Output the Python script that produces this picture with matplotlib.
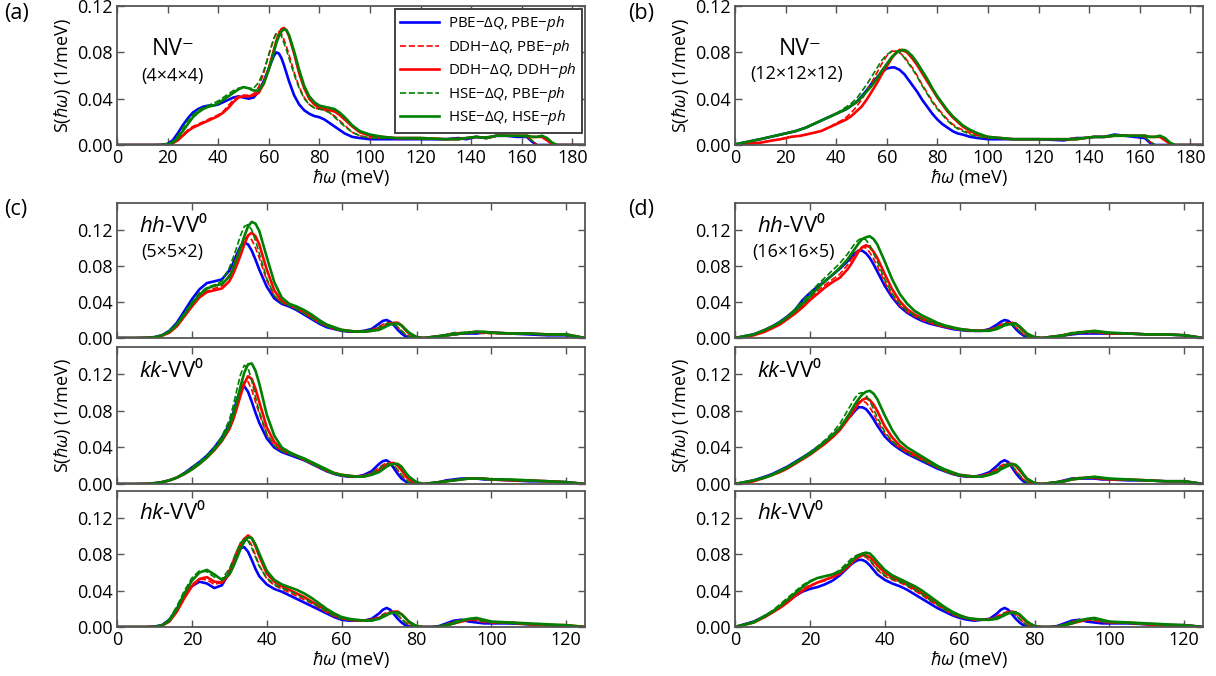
import matplotlib
matplotlib.use('Agg')
import matplotlib.pyplot as plt

BASE = 'Open Sans'
plt.rcParams['font.family'] = [BASE, 'DejaVu Sans']
plt.rcParams['mathtext.fontset'] = 'custom'
plt.rcParams['mathtext.rm'] = BASE
plt.rcParams['mathtext.it'] = BASE + ':italic'
plt.rcParams['mathtext.bf'] = BASE + ':bold'
plt.rcParams['mathtext.fallback'] = 'stixsans'

# ---------------- data ----------------
series_labels = [r'PBE$-\Delta Q$, PBE$-ph$', r'DDH$-\Delta Q$, PBE$-ph$',
                 r'DDH$-\Delta Q$, DDH$-ph$', r'HSE$-\Delta Q$, PBE$-ph$',
                 r'HSE$-\Delta Q$, HSE$-ph$']

# NV- energy grid (meV)
nv_x = [0, 10, 15, 18, 20, 22, 24, 26, 28, 30, 32, 34, 36, 38, 40, 42, 44, 46, 48, 50,
        52, 54, 56, 58, 60, 62, 63, 64, 65, 66, 67, 68, 70, 72, 74, 76, 78, 80, 82, 84,
        86, 88, 90, 93, 96, 100, 105, 110, 120, 130, 135, 138, 142, 146, 150, 154, 158, 162, 164, 166,
        168, 170, 172, 174, 185]

# (a) NV- 4x4x4
a_pbe_pbe = [0, 0, 0, 0.0003, 0.001, 0.004, 0.010, 0.017, 0.023, 0.028,
             0.031, 0.033, 0.034, 0.034, 0.035, 0.037, 0.039, 0.041, 0.042, 0.041,
             0.040, 0.041, 0.046, 0.055, 0.066, 0.077, 0.080, 0.079, 0.075, 0.069,
             0.062, 0.055, 0.043, 0.035, 0.030, 0.027, 0.025, 0.024, 0.022, 0.019,
             0.016, 0.013, 0.010, 0.007, 0.006, 0.005, 0.005, 0.005, 0.005, 0.005,
             0.006, 0.005, 0.007, 0.006, 0.008, 0.008, 0.007, 0.007, 0.003, 0.0,
             0, 0, 0, 0, 0]
a_ddh_pbe = [0, 0, 0, 0, 0.0005, 0.002, 0.005, 0.009, 0.013, 0.016,
             0.018, 0.020, 0.022, 0.024, 0.026, 0.029, 0.034, 0.039, 0.042, 0.043,
             0.043, 0.044, 0.050, 0.062, 0.078, 0.092, 0.097, 0.098, 0.096, 0.091,
             0.085, 0.078, 0.063, 0.050, 0.041, 0.035, 0.032, 0.031, 0.030, 0.028,
             0.025, 0.021, 0.017, 0.011, 0.008, 0.006, 0.006, 0.006, 0.005, 0.005,
             0.006, 0.006, 0.007, 0.007, 0.008, 0.008, 0.008, 0.007, 0.004, 0,
             0, 0, 0, 0, 0]
a_ddh_ddh = [0, 0, 0, 0, 0.0003, 0.0015, 0.004, 0.008, 0.012, 0.015,
             0.017, 0.019, 0.021, 0.023, 0.025, 0.028, 0.032, 0.037, 0.041, 0.042,
             0.042, 0.043, 0.045, 0.053, 0.066, 0.082, 0.090, 0.096, 0.100, 0.101,
             0.099, 0.094, 0.079, 0.062, 0.049, 0.040, 0.035, 0.032, 0.031, 0.030,
             0.029, 0.026, 0.022, 0.016, 0.011, 0.008, 0.007, 0.006, 0.006, 0.005,
             0.005, 0.006, 0.007, 0.006, 0.008, 0.008, 0.008, 0.008, 0.007, 0.007,
             0.007, 0.004, 0.001, 0, 0]
a_hse_pbe = [0, 0, 0, 0.0003, 0.001, 0.003, 0.008, 0.015, 0.021, 0.026,
             0.030, 0.032, 0.034, 0.036, 0.038, 0.041, 0.044, 0.047, 0.049, 0.050,
             0.049, 0.049, 0.054, 0.064, 0.078, 0.092, 0.096, 0.097, 0.094, 0.088,
             0.082, 0.075, 0.061, 0.049, 0.040, 0.035, 0.032, 0.031, 0.030, 0.028,
             0.024, 0.020, 0.016, 0.011, 0.008, 0.006, 0.006, 0.006, 0.005, 0.005,
             0.006, 0.006, 0.007, 0.007, 0.008, 0.008, 0.008, 0.007, 0.004, 0,
             0, 0, 0, 0, 0]
a_hse_hse = [0, 0, 0, 0, 0.0005, 0.002, 0.006, 0.012, 0.018, 0.024,
             0.028, 0.031, 0.033, 0.034, 0.036, 0.039, 0.042, 0.045, 0.048, 0.050,
             0.049, 0.047, 0.047, 0.053, 0.065, 0.080, 0.088, 0.094, 0.098, 0.100,
             0.099, 0.095, 0.081, 0.065, 0.051, 0.042, 0.037, 0.034, 0.033, 0.032,
             0.031, 0.028, 0.024, 0.017, 0.012, 0.009, 0.007, 0.006, 0.006, 0.005,
             0.005, 0.006, 0.007, 0.006, 0.008, 0.008, 0.008, 0.008, 0.007, 0.007,
             0.008, 0.006, 0.002, 0, 0]

# (b) NV- 12x12x12
b_pbe_pbe = [0.0005, 0.005, 0.0075, 0.009, 0.010, 0.011, 0.012, 0.0135, 0.015, 0.017,
             0.019, 0.021, 0.023, 0.025, 0.027, 0.029, 0.031, 0.034, 0.037, 0.042,
             0.047, 0.053, 0.058, 0.063, 0.066, 0.067, 0.067, 0.066, 0.065, 0.063,
             0.061, 0.058, 0.052, 0.046, 0.039, 0.033, 0.027, 0.022, 0.018, 0.015,
             0.012, 0.010, 0.009, 0.007, 0.006, 0.005, 0.005, 0.005, 0.005, 0.004,
             0.006, 0.006, 0.007, 0.007, 0.009, 0.008, 0.007, 0.006, 0.002, 0,
             0, 0, 0, 0, 0]
b_ddh_pbe = [0, 0.002, 0.004, 0.005, 0.006, 0.007, 0.0075, 0.008, 0.009, 0.010,
             0.011, 0.012, 0.014, 0.016, 0.019, 0.021, 0.024, 0.028, 0.033, 0.039,
             0.046, 0.054, 0.062, 0.070, 0.077, 0.081, 0.081, 0.081, 0.080, 0.078,
             0.076, 0.073, 0.067, 0.060, 0.052, 0.045, 0.038, 0.032, 0.027, 0.022,
             0.018, 0.015, 0.013, 0.010, 0.008, 0.006, 0.006, 0.005, 0.005, 0.005,
             0.006, 0.006, 0.007, 0.007, 0.008, 0.008, 0.008, 0.007, 0.003, 0,
             0, 0, 0, 0, 0]
b_ddh_ddh = [0, 0.002, 0.004, 0.005, 0.006, 0.007, 0.0075, 0.008, 0.009, 0.010,
             0.011, 0.012, 0.014, 0.016, 0.018, 0.020, 0.022, 0.025, 0.029, 0.033,
             0.039, 0.046, 0.053, 0.061, 0.068, 0.075, 0.078, 0.080, 0.082, 0.082,
             0.081, 0.080, 0.075, 0.069, 0.062, 0.055, 0.048, 0.041, 0.035, 0.029,
             0.024, 0.020, 0.016, 0.012, 0.009, 0.007, 0.006, 0.005, 0.005, 0.005,
             0.005, 0.006, 0.007, 0.007, 0.008, 0.008, 0.008, 0.008, 0.007, 0.007,
             0.007, 0.004, 0.001, 0, 0]
b_hse_pbe = [0.0005, 0.005, 0.0075, 0.009, 0.010, 0.011, 0.012, 0.0135, 0.015, 0.017,
             0.019, 0.021, 0.023, 0.025, 0.027, 0.030, 0.033, 0.036, 0.040, 0.046,
             0.052, 0.059, 0.066, 0.073, 0.078, 0.081, 0.081, 0.081, 0.080, 0.078,
             0.075, 0.072, 0.066, 0.059, 0.051, 0.044, 0.037, 0.031, 0.026, 0.021,
             0.017, 0.014, 0.012, 0.009, 0.007, 0.006, 0.006, 0.005, 0.005, 0.005,
             0.006, 0.006, 0.007, 0.007, 0.009, 0.008, 0.008, 0.007, 0.003, 0,
             0, 0, 0, 0, 0]
b_hse_hse = [0.0005, 0.005, 0.0075, 0.009, 0.010, 0.011, 0.012, 0.0135, 0.015, 0.017,
             0.019, 0.021, 0.023, 0.025, 0.027, 0.029, 0.031, 0.034, 0.037, 0.041,
             0.046, 0.051, 0.057, 0.064, 0.070, 0.076, 0.078, 0.080, 0.081, 0.082,
             0.082, 0.081, 0.077, 0.071, 0.064, 0.057, 0.049, 0.042, 0.036, 0.030,
             0.025, 0.021, 0.017, 0.013, 0.010, 0.007, 0.006, 0.005, 0.005, 0.005,
             0.005, 0.006, 0.007, 0.007, 0.008, 0.008, 0.008, 0.008, 0.007, 0.007,
             0.008, 0.006, 0.002, 0, 0]

# VV0 energy grid (meV)
vv_x = [0, 5, 8, 10, 12, 14, 16, 18, 20, 22, 24, 26, 28, 30, 31, 32, 33, 34, 35, 36,
        37, 38, 40, 42, 44, 46, 48, 50, 52, 54, 56, 58, 60, 62, 64, 66, 68, 70, 71, 72,
        73, 74, 75, 76, 77, 78, 80, 82, 84, 86, 88, 90, 92, 94, 96, 98, 100, 105, 110, 115,
        120, 125]

# (c) 5x5x2 supercell
c_hh_pbe_pbe = [0, 0, 0.0003, 0.001, 0.003, 0.008, 0.017, 0.030, 0.043, 0.054,
                0.061, 0.063, 0.065, 0.075, 0.083, 0.093, 0.102, 0.106, 0.104, 0.097,
                0.087, 0.076, 0.057, 0.044, 0.038, 0.035, 0.031, 0.026, 0.021, 0.016,
                0.012, 0.010, 0.008, 0.007, 0.007, 0.008, 0.010, 0.016, 0.019, 0.020,
                0.018, 0.014, 0.009, 0.005, 0.002, 0.0008, 0, 0, 0.001, 0.002,
                0.003, 0.004, 0.005, 0.005, 0.005, 0.006, 0.006, 0.005, 0.004, 0.003,
                0.003, 0]
c_hh_ddh_pbe = [0, 0, 0.0002, 0.0008, 0.003, 0.007, 0.015, 0.026, 0.037, 0.046,
                0.052, 0.055, 0.058, 0.070, 0.080, 0.091, 0.102, 0.110, 0.113, 0.109,
                0.100, 0.089, 0.064, 0.047, 0.039, 0.036, 0.032, 0.027, 0.022, 0.017,
                0.013, 0.010, 0.008, 0.007, 0.007, 0.008, 0.009, 0.013, 0.015, 0.017,
                0.017, 0.016, 0.012, 0.008, 0.004, 0.002, 0, 0, 0.001, 0.002,
                0.004, 0.005, 0.006, 0.006, 0.006, 0.005, 0.005, 0.005, 0.005, 0.004,
                0.003, 0]
c_hh_ddh_ddh = [0, 0, 0.0002, 0.0007, 0.0025, 0.006, 0.013, 0.024, 0.035, 0.045,
                0.051, 0.053, 0.055, 0.063, 0.071, 0.081, 0.092, 0.104, 0.114, 0.117,
                0.113, 0.104, 0.076, 0.053, 0.041, 0.037, 0.033, 0.029, 0.024, 0.019,
                0.014, 0.011, 0.009, 0.008, 0.007, 0.007, 0.008, 0.010, 0.012, 0.014,
                0.016, 0.017, 0.017, 0.014, 0.009, 0.005, 0.001, 0, 0.001, 0.002,
                0.003, 0.004, 0.005, 0.006, 0.007, 0.006, 0.006, 0.005, 0.005, 0.004,
                0.004, 0]
c_hh_hse_pbe = [0, 0, 0.0003, 0.001, 0.003, 0.008, 0.016, 0.028, 0.040, 0.050,
                0.056, 0.059, 0.063, 0.078, 0.089, 0.101, 0.114, 0.124, 0.126, 0.120,
                0.108, 0.094, 0.066, 0.047, 0.039, 0.036, 0.032, 0.027, 0.022, 0.017,
                0.013, 0.010, 0.008, 0.007, 0.007, 0.008, 0.009, 0.012, 0.014, 0.016,
                0.016, 0.015, 0.012, 0.008, 0.004, 0.002, 0, 0, 0.001, 0.002,
                0.004, 0.006, 0.006, 0.007, 0.006, 0.006, 0.005, 0.005, 0.005, 0.004,
                0.003, 0]
c_hh_hse_hse = [0, 0, 0.0002, 0.0008, 0.003, 0.007, 0.015, 0.026, 0.038, 0.048,
                0.055, 0.058, 0.060, 0.068, 0.077, 0.088, 0.100, 0.113, 0.124, 0.129,
                0.127, 0.119, 0.090, 0.062, 0.045, 0.038, 0.035, 0.031, 0.026, 0.020,
                0.015, 0.012, 0.009, 0.008, 0.007, 0.007, 0.008, 0.009, 0.011, 0.013,
                0.015, 0.016, 0.016, 0.014, 0.010, 0.006, 0.001, 0, 0.001, 0.002,
                0.003, 0.004, 0.005, 0.006, 0.007, 0.007, 0.006, 0.005, 0.005, 0.004,
                0.004, 0]

c_kk_pbe_pbe = [0, 0, 0.0003, 0.001, 0.002, 0.004, 0.007, 0.012, 0.018, 0.024,
                0.031, 0.040, 0.051, 0.065, 0.077, 0.092, 0.104, 0.107, 0.101, 0.090,
                0.078, 0.067, 0.050, 0.040, 0.035, 0.032, 0.029, 0.026, 0.022, 0.018,
                0.014, 0.011, 0.009, 0.008, 0.008, 0.010, 0.014, 0.022, 0.025, 0.026,
                0.023, 0.017, 0.011, 0.006, 0.003, 0.001, 0, 0, 0.001, 0.002,
                0.004, 0.005, 0.006, 0.006, 0.006, 0.005, 0.005, 0.004, 0.003, 0.003,
                0.002, 0]
c_kk_ddh_pbe = [0, 0, 0.0002, 0.0008, 0.002, 0.004, 0.007, 0.011, 0.017, 0.023,
                0.030, 0.039, 0.049, 0.064, 0.076, 0.090, 0.104, 0.112, 0.112, 0.103,
                0.090, 0.077, 0.054, 0.042, 0.036, 0.033, 0.030, 0.026, 0.022, 0.018,
                0.014, 0.011, 0.009, 0.008, 0.008, 0.009, 0.012, 0.018, 0.021, 0.023,
                0.023, 0.020, 0.015, 0.009, 0.005, 0.002, 0, 0, 0.001, 0.002,
                0.003, 0.004, 0.005, 0.006, 0.006, 0.005, 0.005, 0.004, 0.003, 0.003,
                0.002, 0]
c_kk_ddh_ddh = [0, 0, 0.0002, 0.0007, 0.002, 0.004, 0.007, 0.011, 0.016, 0.022,
                0.029, 0.037, 0.047, 0.060, 0.070, 0.083, 0.097, 0.110, 0.118, 0.115,
                0.104, 0.090, 0.062, 0.046, 0.038, 0.034, 0.031, 0.027, 0.023, 0.019,
                0.015, 0.012, 0.010, 0.009, 0.008, 0.009, 0.011, 0.015, 0.018, 0.021,
                0.023, 0.023, 0.020, 0.015, 0.009, 0.005, 0.001, 0, 0.001, 0.002,
                0.003, 0.004, 0.005, 0.006, 0.006, 0.006, 0.005, 0.004, 0.004, 0.003,
                0.002, 0]
c_kk_hse_pbe = [0, 0, 0.0003, 0.001, 0.002, 0.004, 0.007, 0.012, 0.018, 0.024,
                0.031, 0.040, 0.052, 0.070, 0.085, 0.103, 0.120, 0.130, 0.127, 0.113,
                0.095, 0.079, 0.055, 0.042, 0.036, 0.033, 0.030, 0.026, 0.022, 0.018,
                0.014, 0.011, 0.009, 0.008, 0.008, 0.009, 0.012, 0.017, 0.020, 0.022,
                0.022, 0.020, 0.015, 0.010, 0.005, 0.002, 0, 0, 0.001, 0.002,
                0.003, 0.004, 0.005, 0.006, 0.006, 0.005, 0.005, 0.004, 0.003, 0.003,
                0.002, 0]
c_kk_hse_hse = [0, 0, 0.0002, 0.0007, 0.002, 0.004, 0.007, 0.011, 0.016, 0.022,
                0.029, 0.038, 0.048, 0.063, 0.075, 0.090, 0.107, 0.122, 0.131, 0.132,
                0.124, 0.110, 0.076, 0.053, 0.040, 0.035, 0.031, 0.028, 0.024, 0.020,
                0.016, 0.012, 0.010, 0.009, 0.008, 0.008, 0.010, 0.013, 0.016, 0.019,
                0.021, 0.022, 0.022, 0.019, 0.013, 0.008, 0.002, 0, 0.001, 0.002,
                0.003, 0.004, 0.005, 0.006, 0.006, 0.006, 0.005, 0.005, 0.004, 0.003,
                0.002, 0]

c_hk_pbe_pbe = [0, 0, 0, 0.0005, 0.002, 0.008, 0.020, 0.034, 0.045, 0.050,
                0.048, 0.043, 0.046, 0.060, 0.070, 0.080, 0.087, 0.088, 0.083, 0.074,
                0.064, 0.056, 0.047, 0.042, 0.039, 0.035, 0.031, 0.027, 0.023, 0.019,
                0.015, 0.011, 0.008, 0.007, 0.007, 0.007, 0.009, 0.015, 0.019, 0.021,
                0.019, 0.014, 0.009, 0.005, 0.002, 0.001, 0, 0, 0, 0.001,
                0.004, 0.007, 0.008, 0.006, 0.005, 0.004, 0.004, 0.004, 0.003, 0.002,
                0.001, 0]
c_hk_ddh_pbe = [0, 0, 0, 0.0004, 0.002, 0.008, 0.020, 0.035, 0.047, 0.053,
                0.052, 0.047, 0.049, 0.063, 0.073, 0.084, 0.093, 0.098, 0.097, 0.090,
                0.079, 0.068, 0.053, 0.046, 0.042, 0.038, 0.034, 0.030, 0.026, 0.021,
                0.016, 0.012, 0.009, 0.008, 0.007, 0.007, 0.008, 0.011, 0.014, 0.016,
                0.017, 0.016, 0.013, 0.009, 0.005, 0.002, 0, 0, 0, 0.001,
                0.003, 0.006, 0.008, 0.008, 0.007, 0.005, 0.005, 0.004, 0.003, 0.002,
                0.002, 0]
c_hk_ddh_ddh = [0, 0, 0, 0.0003, 0.0015, 0.006, 0.017, 0.032, 0.045, 0.053,
                0.055, 0.050, 0.049, 0.058, 0.067, 0.078, 0.089, 0.097, 0.101, 0.098,
                0.089, 0.078, 0.059, 0.050, 0.045, 0.041, 0.037, 0.033, 0.028, 0.023,
                0.018, 0.013, 0.010, 0.008, 0.007, 0.007, 0.008, 0.010, 0.012, 0.014,
                0.016, 0.017, 0.017, 0.014, 0.010, 0.005, 0.001, 0, 0, 0,
                0.002, 0.004, 0.006, 0.008, 0.009, 0.007, 0.005, 0.005, 0.003, 0.002,
                0.002, 0]
c_hk_hse_pbe = [0, 0, 0, 0.0005, 0.002, 0.009, 0.023, 0.040, 0.054, 0.062,
                0.061, 0.055, 0.053, 0.064, 0.074, 0.084, 0.093, 0.097, 0.095, 0.087,
                0.077, 0.067, 0.054, 0.047, 0.043, 0.040, 0.036, 0.032, 0.027, 0.022,
                0.017, 0.012, 0.009, 0.008, 0.007, 0.007, 0.008, 0.010, 0.013, 0.015,
                0.016, 0.016, 0.013, 0.009, 0.005, 0.002, 0, 0, 0, 0.001,
                0.003, 0.006, 0.008, 0.009, 0.008, 0.006, 0.005, 0.004, 0.003, 0.002,
                0.002, 0]
c_hk_hse_hse = [0, 0, 0, 0.0003, 0.0015, 0.007, 0.020, 0.037, 0.051, 0.060,
                0.063, 0.058, 0.052, 0.058, 0.066, 0.076, 0.086, 0.094, 0.099, 0.098,
                0.091, 0.081, 0.062, 0.052, 0.047, 0.044, 0.041, 0.037, 0.032, 0.026,
                0.020, 0.015, 0.011, 0.009, 0.008, 0.007, 0.007, 0.009, 0.011, 0.013,
                0.015, 0.016, 0.016, 0.014, 0.010, 0.006, 0.001, 0, 0, 0,
                0.002, 0.004, 0.007, 0.009, 0.010, 0.008, 0.006, 0.005, 0.004, 0.003,
                0.002, 0]

# (d) 16x16x5 supercell
d_hh_pbe_pbe = [0, 0.004, 0.009, 0.013, 0.018, 0.024, 0.031, 0.042, 0.050, 0.057,
                0.063, 0.070, 0.077, 0.085, 0.089, 0.094, 0.097, 0.097, 0.094, 0.089,
                0.082, 0.074, 0.058, 0.045, 0.035, 0.028, 0.023, 0.019, 0.016, 0.014,
                0.012, 0.010, 0.009, 0.008, 0.008, 0.008, 0.010, 0.015, 0.018, 0.020,
                0.019, 0.015, 0.010, 0.006, 0.003, 0.001, 0, 0, 0.001, 0.002,
                0.003, 0.004, 0.005, 0.005, 0.005, 0.005, 0.005, 0.005, 0.004, 0.004,
                0.003, 0]
d_hh_ddh_pbe = [0, 0.003, 0.008, 0.012, 0.016, 0.022, 0.028, 0.036, 0.044, 0.052,
                0.059, 0.065, 0.071, 0.081, 0.087, 0.093, 0.098, 0.101, 0.100, 0.095,
                0.088, 0.080, 0.062, 0.047, 0.036, 0.029, 0.024, 0.020, 0.017, 0.014,
                0.012, 0.011, 0.009, 0.008, 0.008, 0.008, 0.009, 0.013, 0.015, 0.017,
                0.017, 0.016, 0.012, 0.008, 0.004, 0.002, 0, 0, 0.001, 0.002,
                0.004, 0.005, 0.006, 0.006, 0.006, 0.006, 0.005, 0.005, 0.004, 0.004,
                0.003, 0]
d_hh_ddh_ddh = [0, 0.003, 0.007, 0.011, 0.015, 0.021, 0.027, 0.034, 0.042, 0.049,
                0.056, 0.062, 0.067, 0.076, 0.082, 0.089, 0.096, 0.101, 0.103, 0.101,
                0.096, 0.089, 0.071, 0.054, 0.041, 0.032, 0.026, 0.022, 0.018, 0.015,
                0.013, 0.011, 0.010, 0.009, 0.008, 0.008, 0.009, 0.011, 0.013, 0.015,
                0.016, 0.017, 0.016, 0.012, 0.008, 0.004, 0.001, 0, 0.001, 0.002,
                0.003, 0.005, 0.006, 0.007, 0.007, 0.006, 0.005, 0.005, 0.004, 0.004,
                0.003, 0]
d_hh_hse_pbe = [0, 0.004, 0.009, 0.013, 0.018, 0.024, 0.032, 0.041, 0.050, 0.059,
                0.067, 0.075, 0.083, 0.093, 0.099, 0.105, 0.109, 0.111, 0.109, 0.103,
                0.094, 0.085, 0.065, 0.049, 0.038, 0.030, 0.025, 0.021, 0.018, 0.015,
                0.013, 0.011, 0.009, 0.008, 0.008, 0.008, 0.009, 0.012, 0.014, 0.016,
                0.016, 0.015, 0.012, 0.008, 0.004, 0.002, 0, 0, 0.001, 0.002,
                0.004, 0.006, 0.007, 0.007, 0.006, 0.006, 0.005, 0.005, 0.004, 0.004,
                0.003, 0]
d_hh_hse_hse = [0, 0.004, 0.009, 0.013, 0.017, 0.023, 0.030, 0.038, 0.046, 0.055,
                0.063, 0.070, 0.078, 0.087, 0.093, 0.099, 0.105, 0.110, 0.112, 0.113,
                0.110, 0.104, 0.085, 0.065, 0.049, 0.038, 0.030, 0.025, 0.021, 0.017,
                0.014, 0.012, 0.010, 0.009, 0.008, 0.008, 0.008, 0.010, 0.012, 0.014,
                0.015, 0.016, 0.016, 0.013, 0.009, 0.005, 0.001, 0, 0.001, 0.002,
                0.003, 0.005, 0.006, 0.007, 0.008, 0.007, 0.006, 0.005, 0.004, 0.004,
                0.003, 0]

d_kk_pbe_pbe = [0, 0.004, 0.008, 0.011, 0.015, 0.019, 0.024, 0.029, 0.034, 0.040,
                0.046, 0.053, 0.061, 0.071, 0.075, 0.080, 0.084, 0.084, 0.082, 0.077,
                0.071, 0.064, 0.052, 0.044, 0.038, 0.033, 0.029, 0.025, 0.021, 0.017,
                0.014, 0.011, 0.009, 0.008, 0.008, 0.010, 0.013, 0.020, 0.024, 0.026,
                0.024, 0.018, 0.012, 0.007, 0.003, 0.001, 0, 0, 0.001, 0.002,
                0.004, 0.006, 0.006, 0.006, 0.006, 0.005, 0.005, 0.004, 0.004, 0.003,
                0.003, 0]
d_kk_ddh_pbe = [0, 0.003, 0.007, 0.010, 0.014, 0.018, 0.023, 0.028, 0.033, 0.039,
                0.046, 0.053, 0.062, 0.074, 0.080, 0.086, 0.090, 0.091, 0.089, 0.084,
                0.077, 0.069, 0.055, 0.046, 0.039, 0.034, 0.030, 0.026, 0.022, 0.018,
                0.014, 0.011, 0.009, 0.008, 0.008, 0.009, 0.012, 0.017, 0.020, 0.022,
                0.022, 0.019, 0.014, 0.009, 0.005, 0.002, 0, 0, 0.001, 0.002,
                0.004, 0.006, 0.007, 0.007, 0.006, 0.006, 0.005, 0.005, 0.004, 0.003,
                0.003, 0]
d_kk_ddh_ddh = [0, 0.003, 0.007, 0.010, 0.013, 0.017, 0.022, 0.027, 0.032, 0.038,
                0.044, 0.051, 0.059, 0.070, 0.076, 0.082, 0.088, 0.092, 0.094, 0.092,
                0.087, 0.080, 0.063, 0.051, 0.042, 0.036, 0.032, 0.028, 0.024, 0.019,
                0.015, 0.012, 0.010, 0.009, 0.008, 0.009, 0.011, 0.015, 0.017, 0.020,
                0.022, 0.022, 0.020, 0.015, 0.010, 0.005, 0.001, 0, 0.001, 0.002,
                0.003, 0.005, 0.006, 0.007, 0.007, 0.006, 0.005, 0.005, 0.004, 0.003,
                0.003, 0]
d_kk_hse_pbe = [0, 0.004, 0.008, 0.011, 0.015, 0.019, 0.024, 0.029, 0.035, 0.041,
                0.048, 0.056, 0.066, 0.080, 0.087, 0.094, 0.099, 0.100, 0.097, 0.091,
                0.082, 0.073, 0.057, 0.047, 0.040, 0.035, 0.030, 0.026, 0.022, 0.018,
                0.014, 0.011, 0.009, 0.008, 0.008, 0.009, 0.011, 0.016, 0.019, 0.021,
                0.022, 0.020, 0.015, 0.010, 0.005, 0.002, 0, 0, 0.001, 0.002,
                0.004, 0.006, 0.007, 0.007, 0.007, 0.006, 0.005, 0.005, 0.004, 0.003,
                0.003, 0]
d_kk_hse_hse = [0, 0.004, 0.007, 0.010, 0.014, 0.018, 0.023, 0.028, 0.033, 0.039,
                0.046, 0.053, 0.061, 0.073, 0.080, 0.087, 0.093, 0.098, 0.101, 0.102,
                0.099, 0.093, 0.075, 0.059, 0.047, 0.040, 0.035, 0.030, 0.025, 0.020,
                0.016, 0.013, 0.010, 0.009, 0.008, 0.008, 0.010, 0.013, 0.016, 0.018,
                0.020, 0.022, 0.021, 0.017, 0.011, 0.006, 0.001, 0, 0.001, 0.002,
                0.003, 0.005, 0.006, 0.007, 0.008, 0.007, 0.006, 0.005, 0.004, 0.003,
                0.003, 0]

d_hk_pbe_pbe = [0, 0.006, 0.012, 0.017, 0.022, 0.028, 0.034, 0.039, 0.042, 0.044,
                0.047, 0.051, 0.057, 0.065, 0.069, 0.072, 0.074, 0.074, 0.072, 0.068,
                0.063, 0.058, 0.052, 0.048, 0.045, 0.041, 0.036, 0.031, 0.026, 0.021,
                0.017, 0.013, 0.010, 0.008, 0.007, 0.008, 0.009, 0.015, 0.019, 0.021,
                0.019, 0.014, 0.009, 0.005, 0.002, 0.001, 0, 0, 0, 0.001,
                0.004, 0.007, 0.008, 0.006, 0.005, 0.004, 0.004, 0.004, 0.003, 0.002,
                0.002, 0]
d_hk_ddh_pbe = [0, 0.006, 0.012, 0.017, 0.023, 0.029, 0.036, 0.042, 0.046, 0.049,
                0.051, 0.055, 0.061, 0.069, 0.073, 0.076, 0.078, 0.078, 0.077, 0.073,
                0.068, 0.063, 0.056, 0.052, 0.049, 0.045, 0.040, 0.035, 0.029, 0.024,
                0.019, 0.014, 0.011, 0.009, 0.008, 0.008, 0.009, 0.012, 0.014, 0.016,
                0.017, 0.016, 0.013, 0.009, 0.005, 0.002, 0, 0, 0, 0.001,
                0.003, 0.006, 0.008, 0.008, 0.007, 0.005, 0.005, 0.004, 0.003, 0.002,
                0.002, 0]
d_hk_ddh_ddh = [0, 0.005, 0.011, 0.016, 0.021, 0.027, 0.034, 0.040, 0.045, 0.049,
                0.052, 0.055, 0.059, 0.066, 0.070, 0.074, 0.077, 0.079, 0.079, 0.077,
                0.073, 0.068, 0.060, 0.055, 0.051, 0.047, 0.042, 0.037, 0.031, 0.026,
                0.021, 0.016, 0.012, 0.010, 0.008, 0.008, 0.008, 0.010, 0.012, 0.014,
                0.016, 0.017, 0.016, 0.013, 0.009, 0.005, 0.001, 0, 0, 0,
                0.002, 0.004, 0.006, 0.008, 0.009, 0.007, 0.005, 0.005, 0.003, 0.002,
                0.002, 0]
d_hk_hse_pbe = [0, 0.006, 0.013, 0.018, 0.025, 0.032, 0.039, 0.046, 0.051, 0.054,
                0.055, 0.058, 0.063, 0.071, 0.075, 0.078, 0.080, 0.080, 0.078, 0.074,
                0.069, 0.064, 0.057, 0.053, 0.050, 0.046, 0.041, 0.036, 0.030, 0.025,
                0.019, 0.015, 0.011, 0.009, 0.008, 0.008, 0.008, 0.011, 0.013, 0.015,
                0.016, 0.016, 0.013, 0.009, 0.005, 0.002, 0, 0, 0, 0.001,
                0.003, 0.006, 0.008, 0.009, 0.008, 0.006, 0.005, 0.004, 0.003, 0.002,
                0.002, 0]
d_hk_hse_hse = [0, 0.005, 0.012, 0.017, 0.023, 0.030, 0.037, 0.044, 0.050, 0.054,
                0.056, 0.058, 0.061, 0.068, 0.072, 0.076, 0.079, 0.081, 0.082, 0.081,
                0.077, 0.072, 0.063, 0.057, 0.053, 0.049, 0.045, 0.040, 0.034, 0.028,
                0.022, 0.017, 0.013, 0.010, 0.009, 0.008, 0.008, 0.009, 0.011, 0.013,
                0.015, 0.016, 0.016, 0.014, 0.010, 0.006, 0.001, 0, 0, 0,
                0.002, 0.004, 0.007, 0.009, 0.010, 0.008, 0.006, 0.005, 0.004, 0.003,
                0.002, 0]

nv_yticks = [0.00, 0.04, 0.08, 0.12]
nv_xticks = [0, 20, 40, 60, 80, 100, 120, 140, 160, 180]
vv_yticks = [0.00, 0.04, 0.08, 0.12]
vv_xticks = [0, 20, 40, 60, 80, 100, 120]

# ---------------- styling ----------------
colors = ['#0000ff', '#ff0000', '#ff0000', '#008000', '#008000']
lstyles = ['-', '--', '-', '--', '-']
lwidths = [1.9, 1.2, 1.9, 1.2, 1.9]
SPINE = '#555555'
TICKFS = 13
LABELFS = 13
YLABEL = r'S($\hbar\omega$) (1/meV)'
XLABEL = r'$\hbar\omega$ (meV)'

fig = plt.figure(figsize=(12.16, 6.76), dpi=100)
W, H = 1216.0, 676.0


def make_ax(l, t, r, b):
    return fig.add_axes([l / W, 1 - b / H, (r - l) / W, (b - t) / H])


def style_ax(ax, xlim, ylim, xticks, yticks, show_x):
    ax.set_xlim(*xlim)
    ax.set_ylim(*ylim)
    ax.set_xticks(xticks)
    ax.set_yticks(yticks)
    ax.set_yticklabels(['%.2f' % v for v in yticks])
    ax.tick_params(direction='in', top=True, right=True, length=5, width=1,
                   color=SPINE, labelsize=TICKFS, pad=3)
    if not show_x:
        ax.tick_params(labelbottom=False)
    for s in ax.spines.values():
        s.set_color(SPINE)
        s.set_linewidth(1.3)


def draw(ax, x, ys):
    for y, c, ls, lw, lab in zip(ys, colors, lstyles, lwidths, series_labels):
        ax.plot(x, y, color=c, ls=ls, lw=lw, label=lab)


# (a)
ax_a = make_ax(117, 6, 585, 145)
draw(ax_a, nv_x, [a_pbe_pbe, a_ddh_pbe, a_ddh_ddh, a_hse_pbe, a_hse_hse])
style_ax(ax_a, (0, 185), (0, 0.12), nv_xticks, nv_yticks, True)
ax_a.set_ylabel(YLABEL, fontsize=LABELFS, labelpad=3)
ax_a.set_xlabel(XLABEL, fontsize=LABELFS, labelpad=0)
leg = ax_a.legend(loc='upper right', fontsize=10.8, handlelength=2.6,
                  labelspacing=0.3, borderpad=0.35, handletextpad=0.6,
                  borderaxespad=0.2, framealpha=1, fancybox=False)
leg.get_frame().set_edgecolor('#333333')
leg.get_frame().set_linewidth(1.3)
ax_a.text(0.12, 0.69, 'NV⁻', transform=ax_a.transAxes, fontsize=16.5,
          ha='center', va='center')
ax_a.text(0.118, 0.50, '(4×4×4)', transform=ax_a.transAxes, fontsize=13,
          ha='center', va='center')

# (b)
ax_b = make_ax(735, 6, 1203, 145)
draw(ax_b, nv_x, [b_pbe_pbe, b_ddh_pbe, b_ddh_ddh, b_hse_pbe, b_hse_hse])
style_ax(ax_b, (0, 185), (0, 0.12), nv_xticks, nv_yticks, True)
ax_b.set_ylabel(YLABEL, fontsize=LABELFS, labelpad=3)
ax_b.set_xlabel(XLABEL, fontsize=LABELFS, labelpad=0)
ax_b.text(0.139, 0.69, 'NV⁻', transform=ax_b.transAxes, fontsize=16.5,
          ha='center', va='center')
ax_b.text(0.132, 0.51, '(12×12×12)', transform=ax_b.transAxes, fontsize=13,
          ha='center', va='center')

# (c) and (d)
rows = [(203, 338), (347, 484), (491, 627)]
c_data = [[c_hh_pbe_pbe, c_hh_ddh_pbe, c_hh_ddh_ddh, c_hh_hse_pbe, c_hh_hse_hse],
          [c_kk_pbe_pbe, c_kk_ddh_pbe, c_kk_ddh_ddh, c_kk_hse_pbe, c_kk_hse_hse],
          [c_hk_pbe_pbe, c_hk_ddh_pbe, c_hk_ddh_ddh, c_hk_hse_pbe, c_hk_hse_hse]]
d_data = [[d_hh_pbe_pbe, d_hh_ddh_pbe, d_hh_ddh_ddh, d_hh_hse_pbe, d_hh_hse_hse],
          [d_kk_pbe_pbe, d_kk_ddh_pbe, d_kk_ddh_ddh, d_kk_hse_pbe, d_kk_hse_hse],
          [d_hk_pbe_pbe, d_hk_ddh_pbe, d_hk_ddh_ddh, d_hk_hse_pbe, d_hk_hse_hse]]
names = [r'$hh$-VV⁰', r'$kk$-VV⁰', r'$hk$-VV⁰']
name_y = [0.83, 0.83, 0.845]

for (l, r), data, size_lab in [((117, 585), c_data, '(5×5×2)'),
                                ((735, 1203), d_data, '(16×16×5)')]:
    for i, ((t, b), ys) in enumerate(zip(rows, data)):
        ax = make_ax(l, t, r, b)
        draw(ax, vv_x, ys)
        style_ax(ax, (0, 125), (0, 0.15), vv_xticks, vv_yticks, i == 2)
        ax.text(0.048, name_y[i], names[i], transform=ax.transAxes, fontsize=16,
                ha='left', va='center')
        if i == 0:
            ax.text(0.118 if l < 600 else 0.124, 0.637, size_lab,
                    transform=ax.transAxes, fontsize=13, ha='center', va='center')
        if i == 1:
            ax.set_ylabel(YLABEL, fontsize=LABELFS, labelpad=3)
        if i == 2:
            ax.set_xlabel(XLABEL, fontsize=LABELFS, labelpad=0)

# panel letters
fig.text(4 / W, 1 - 14 / H, '(a)', fontsize=15.5, ha='left', va='center')
fig.text(628 / W, 1 - 14 / H, '(b)', fontsize=15.5, ha='left', va='center')
fig.text(4 / W, 1 - 209 / H, '(c)', fontsize=15.5, ha='left', va='center')
fig.text(628 / W, 1 - 209 / H, '(d)', fontsize=15.5, ha='left', va='center')

fig.savefig('out.png', dpi=100)
